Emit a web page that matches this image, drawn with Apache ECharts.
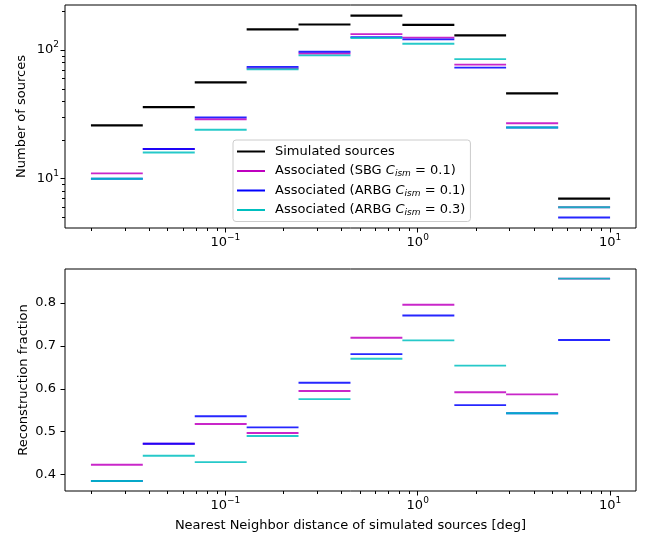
<!DOCTYPE html>
<html><head><meta charset="utf-8">
<script src="https://cdn.jsdelivr.net/npm/echarts@6/dist/echarts.min.js"></script>
<style>html,body{margin:0;padding:0;background:#fff}#c{width:654px;height:539px}</style>
</head><body><div id="c"></div>
<script>
// ---- data ----
const binEdges = [0.02, 0.0372, 0.0693, 0.129, 0.240, 0.447, 0.832, 1.55, 2.88, 5.37, 10];
const seriesNames = ['Simulated sources', 'Associated (SBG Cism = 0.1)', 'Associated (ARBG Cism = 0.1)', 'Associated (ARBG Cism = 0.3)'];
const legendLabels = ['Simulated sources', 'Associated (SBG {i|C}{sub|ism} = 0.1)', 'Associated (ARBG {i|C}{sub|ism} = 0.1)', 'Associated (ARBG {i|C}{sub|ism} = 0.3)'];
const simulated   = [26, 36, 56, 145, 158, 185, 157, 130, 46, 7];
const assocSBG01  = [11, 17, 29, 72, 94, 133, 125, 77, 27, 6];
const assocARBG01 = [10, 17, 30, 74, 97, 126, 121, 73, 25, 5];
const assocARBG03 = [10, 16, 24, 71, 91, 124, 112, 85, 25, 6];
const fracSBG01   = [0.423, 0.472, 0.518, 0.497, 0.595, 0.719, 0.796, 0.592, 0.587, 0.857];
const fracARBG01  = [0.385, 0.472, 0.536, 0.510, 0.614, 0.681, 0.771, 0.562, 0.543, 0.714];
const fracARBG03  = [0.385, 0.444, 0.429, 0.490, 0.576, 0.670, 0.713, 0.654, 0.543, 0.857];
const xMajorTicks = [0.1, 1, 10];
const xMinorTicks = [0.02,0.03,0.04,0.05,0.06,0.07,0.08,0.09,0.2,0.3,0.4,0.5,0.6,0.7,0.8,0.9,2,3,4,5,6,7,8,9];
const yTopMajorTicks = [10, 100];
const yTopMinorTicks = [5,6,7,8,9,20,30,40,50,60,70,80,90,200];
const yBottomTicks = [0.4, 0.5, 0.6, 0.7, 0.8];
const xTitle = 'Nearest Neighbor distance of simulated sources [deg]';
const yTopTitle = 'Number of sources';
const yBottomTitle = 'Reconstruction fraction';

// ---- styling ----
const FONT = 'DejaVu Sans';
const FS = 13;
const colors = ['#000000', '#bf00bf', '#0000ff', '#00bfbf'];
const xExt = [0.01466, 13.64];
const yTopExt = [4.14, 224];
const yBotExt = [0.3616, 0.8795];

const supRich = {
  b: {fontFamily: FONT, fontSize: FS, color: '#000'},
  sup: {fontFamily: FONT, fontSize: 9, color: '#000', padding: [0, 0, 11, 0]}
};
function powLabel(v) {
  const e = Math.round(Math.log10(v));
  return '{b|10}{sup|' + (e < 0 ? '\u2212' + (-e) : e) + '}';
}

function majorAxis(type, gridIndex, ext, ticks, formatter, position, margin) {
  return {
    type, gridIndex, position, min: ext[0], max: ext[1],
    axisLine: {show: false},
    splitLine: {show: false},
    axisTick: {show: true, inside: false, length: 4.5, customValues: ticks, lineStyle: {color: '#000', width: 1}},
    axisLabel: {show: true, customValues: ticks, formatter, margin, rich: supRich,
      fontFamily: FONT, fontSize: FS, color: '#000'}
  };
}
function minorAxis(type, gridIndex, ext, ticks, position) {
  return {
    type, gridIndex, position, offset: 0, min: ext[0], max: ext[1],
    axisLine: {show: false}, splitLine: {show: false},
    axisTick: {show: true, inside: false, length: 3, customValues: ticks, lineStyle: {color: '#000', width: 1}},
    axisLabel: {show: false}
  };
}

function stepSeries(idx, vals, xi, yi) {
  const color = colors[idx];
  const width = idx === 0 ? 2.2 : 1.9;
  const opacity = idx === 0 ? 1 : 0.85;
  return {
    type: 'custom', name: seriesNames[idx], xAxisIndex: xi, yAxisIndex: yi,
    data: vals.map((v, i) => [binEdges[i], binEdges[i + 1], v]),
    encode: {x: [0, 1], y: 2},
    itemStyle: {color},
    animation: false,
    renderItem: (params, api) => {
      const p0 = api.coord([api.value(0), api.value(2)]);
      const p1 = api.coord([api.value(1), api.value(2)]);
      return {type: 'line', shape: {x1: p0[0], y1: p0[1], x2: p1[0], y2: p1[1]},
        style: {stroke: color, lineWidth: width, opacity}};
    }
  };
}

// minor ticks along the bottom x axis of a panel, placed through the axes' own scales
function xMinorTickSeries(xi, yi, yBottom) {
  return {
    type: 'custom', name: 'xminor' + xi, xAxisIndex: xi, yAxisIndex: yi,
    silent: true, clip: false, animation: false, z: 5,
    data: xMinorTicks.map(v => [v, yBottom]),
    encode: {x: 0, y: 1},
    renderItem: (params, api) => {
      const p = api.coord([api.value(0), api.value(1)]);
      const x = Math.round(p[0]) + 0.5;
      return {type: 'line', shape: {x1: x, y1: p[1], x2: x, y2: p[1] + 3},
        style: {stroke: '#000', lineWidth: 1}};
    }
  };
}

const chart = echarts.init(document.getElementById('c'), null, {renderer: 'canvas'});
const titleStyle = {fontFamily: FONT, fontSize: FS, color: '#000'};
const option = {
  animation: false,
  backgroundColor: '#fff',
  textStyle: {fontFamily: FONT},
  grid: [
    {left: 65, top: 5, width: 571, height: 223, show: true, borderColor: '#000', borderWidth: 1, backgroundColor: 'transparent'},
    {left: 65, top: 269, width: 571, height: 222, show: true, borderColor: '#000', borderWidth: 1, backgroundColor: 'transparent'}
  ],
  xAxis: [
    majorAxis('log', 0, xExt, xMajorTicks, powLabel, 'bottom', 5),
    Object.assign(majorAxis('log', 1, xExt, xMajorTicks, powLabel, 'bottom', 5), {
      name: xTitle, nameLocation: 'middle', nameGap: 28, nameMoveOverlap: false, nameTextStyle: titleStyle
    })
  ],
  yAxis: [
    Object.assign(majorAxis('log', 0, yTopExt, yTopMajorTicks, powLabel, 'left', 6), {
      name: yTopTitle, nameLocation: 'middle', nameGap: 37, nameMoveOverlap: false, nameTextStyle: titleStyle
    }),
    minorAxis('log', 0, yTopExt, yTopMinorTicks, 'left'),
    Object.assign(majorAxis('value', 1, yBotExt, yBottomTicks, v => v.toFixed(1), 'left', 9), {
      name: yBottomTitle, nameLocation: 'middle', nameGap: 35, nameMoveOverlap: false, nameTextStyle: titleStyle
    })
  ],
  legend: {
    show: true, orient: 'vertical', left: 233, top: 140,
    backgroundColor: '#fff', borderColor: '#cccccc', borderWidth: 1, borderRadius: 3,
    padding: [3, 5, 3, 4], itemGap: 2.5, itemWidth: 28, itemHeight: 2,
    selectedMode: false,
    data: seriesNames.map((n, i) => ({name: n, icon: 'rect', itemStyle: {color: colors[i]}})),
    formatter: name => legendLabels[seriesNames.indexOf(name)],
    textStyle: {fontFamily: FONT, fontSize: FS, color: '#000', lineHeight: 17, padding: [0, 0, 0, 5],
      rich: {
        i: {fontFamily: FONT, fontSize: FS, fontStyle: 'italic', lineHeight: 17, color: '#000'},
        sub: {fontFamily: FONT, fontSize: 9, fontStyle: 'italic', lineHeight: 11, padding: [6, 0, 0, 0], color: '#000'}
      }
    }
  },
  series: [
    stepSeries(0, simulated, 0, 0),
    stepSeries(1, assocSBG01, 0, 0),
    stepSeries(2, assocARBG01, 0, 0),
    stepSeries(3, assocARBG03, 0, 0),
    stepSeries(1, fracSBG01, 1, 2),
    stepSeries(2, fracARBG01, 1, 2),
    stepSeries(3, fracARBG03, 1, 2),
    xMinorTickSeries(0, 0, yTopExt[0]),
    xMinorTickSeries(1, 2, yBotExt[0])
  ]
};
chart.setOption(option);
</script>
</body></html>
